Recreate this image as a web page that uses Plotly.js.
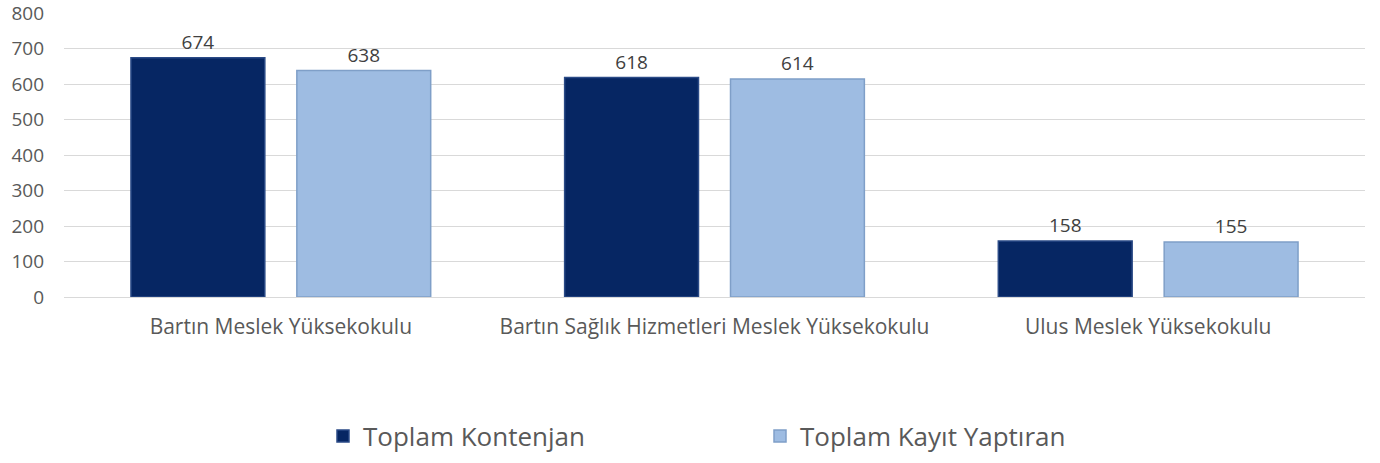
<!DOCTYPE html>
<html><head><meta charset="utf-8">
<script src="https://cdn.plot.ly/plotly-3.0.1.min.js"></script>
<style>body{margin:0;background:#fff}#c{width:1380px;height:463px}</style>
</head><body><div id="c"></div>
<script>
const categories = ["Bartın Meslek Yüksekokulu", "Bartın Sağlık Hizmetleri Meslek Yüksekokulu", "Ulus Meslek Yüksekokulu"];
const kontenjan = [674, 618, 158];
const kayit = [638, 614, 155];
const seriesNames = ["Toplam Kontenjan", "Toplam Kayıt Yaptıran"];
const yTicks = [0, 100, 200, 300, 400, 500, 600, 700, 800];

const font = "Open Sans, Noto Sans, sans-serif";
const traces = [
  {type:'bar', name:seriesNames[0], x:categories, y:kontenjan, text:kontenjan.map(String),
   textposition:'outside', cliponaxis:false,
   textfont:{family:font, size:19, color:'#404040'},
   marker:{color:'#062663', line:{color:'#2a4a86', width:1.5}}},
  {type:'bar', name:seriesNames[1], x:categories, y:kayit, text:kayit.map(String),
   textposition:'outside', cliponaxis:false,
   textfont:{family:font, size:19, color:'#404040'},
   marker:{color:'#9ebce2', line:{color:'#7f9fc8', width:1.5}}}
];
const layout = {
  width:1380, height:463,
  margin:{l:64, r:15, t:13, b:166},
  paper_bgcolor:'#fff', plot_bgcolor:'#fff',
  bargap:0.235, bargroupgap:0.193,
  font:{family:font, color:'#595959'},
  xaxis:{tickfont:{family:font, size:21, color:'#595959'}, showline:true, linecolor:'#d9d9d9', linewidth:1, ticks:'', ticklabelstandoff:11, fixedrange:true},
  yaxis:{range:[0,800], tickvals:yTicks, ticktext:yTicks.map(String), tickfont:{family:font, size:19, color:'#595959'},
         showgrid:true, gridcolor:'#d9d9d9', gridwidth:1, zeroline:false, ticks:'', ticklabelstandoff:19, ticklabeloverflow:'allow'},
  showlegend:true,
  legend:{orientation:'h', xref:'container', x:323/1380, xanchor:'left', yref:'container', y:1-436/463, yanchor:'middle',
          font:{family:font, size:26, color:'#595959'}, entrywidth:392, itemwidth:30, traceorder:'normal'}
};
Plotly.newPlot('c', traces, layout, {displayModeBar:false, staticPlot:true});
</script></body></html>
